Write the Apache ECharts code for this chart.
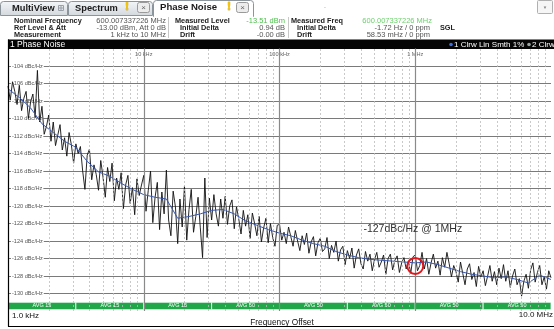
<!DOCTYPE html>
<html>
<head>
<meta charset="utf-8">
<script src="https://cdn.jsdelivr.net/npm/echarts@6.0.0/dist/echarts.min.js"></script>
<style>
  html, body { margin: 0; padding: 0; background: #fff; }
  #chart { width: 554px; height: 329px; }
</style>
</head>
<body>
<div id="chart"></div>
<script>
// sweep: 60 points per decade for the raw trace, 12 for the smoothed one
const startFreq = 1e3;
const stopFreq = 1e7;
const rawPerDecade = 60;
const smoothPerDecade = 12;

// trace 2, Clrw (dBc/Hz)
const rawTrace = [
  -106.3, -107.9, -105.8, -106.9, -108.4, -106.2, -109.1, -107.7, -106.9, -110.0,
  -108.1, -107.2, -109.9, -104.5, -110.4, -108.6, -111.8, -110.9, -109.6, -112.6,
  -110.4, -113.1, -111.9, -110.7, -113.6, -112.2, -114.3, -111.6, -113.0, -115.1,
  -112.9, -114.0, -113.2, -116.0, -118.1, -114.2, -113.5, -117.0, -115.3, -116.4,
  -118.2, -114.8, -116.7, -119.0, -115.6, -117.2, -115.1, -119.4, -116.8, -118.1,
  -116.2, -120.3, -117.6, -116.5, -119.7, -117.9, -121.0, -116.9, -118.8, -117.6,
  -116.5, -120.6, -118.2, -116.0, -121.9, -119.0, -117.3, -122.7, -118.4, -120.9,
  -115.9, -121.6, -123.4, -118.3, -120.1, -124.3, -119.2, -122.4, -117.7, -123.9,
  -120.4, -118.1, -123.0, -121.2, -119.0, -122.5, -125.9, -116.8, -123.6, -119.1,
  -121.6, -118.7, -120.9, -122.3, -119.2, -121.4, -118.9, -122.1, -120.0, -119.3,
  -122.6, -120.1, -121.5, -123.2, -120.5, -122.3, -121.0, -123.7, -120.8, -122.0,
  -123.4, -121.2, -124.1, -122.5, -121.4, -124.2, -122.0, -123.6, -124.6, -122.2,
  -122.1, -123.9, -123.0, -124.3, -122.4, -123.5, -124.6, -122.8, -124.0, -125.1,
  -123.4, -124.4, -123.1, -125.4, -124.1, -123.5, -125.7, -124.2, -123.7, -125.2,
  -124.9, -123.6, -126.0, -124.5, -125.3, -124.0, -126.3, -125.0, -124.6, -126.7,
  -125.1, -126.0, -124.8, -127.1, -125.6, -124.9, -126.6, -127.2, -125.2, -126.3,
  -125.5, -127.4, -126.1, -125.3, -127.0, -126.4, -125.6, -127.8, -126.0, -125.5,
  -127.3, -126.2, -125.7, -127.6, -126.5, -125.9, -127.2, -126.3, -127.7, -125.8,
  -125.6, -127.4, -126.8, -125.3, -127.2, -126.0, -127.8, -126.5, -125.5, -127.1,
  -126.3, -127.9, -125.9, -127.0, -125.3, -126.6, -128.1, -126.8, -127.5, -128.7,
  -126.4, -127.7, -129.0, -127.2, -126.6, -128.4, -127.6, -129.2, -126.9, -128.1,
  -127.4, -129.1, -128.0, -126.8, -128.6, -127.5, -129.0, -127.1, -128.3, -126.7,
  -128.6, -127.4, -129.3, -128.0, -127.2, -129.0, -128.3, -130.3, -128.6, -127.8,
  -129.4, -127.3, -126.5, -128.7, -127.6, -126.8, -129.0, -128.1, -129.5, -127.4,
  -128.2
];

// trace 1, Clrw Lin Smth 1%
const smoothTrace = [
  -106.6, -107.6, -108.8, -110.6, -111.6, -112.6, -113.3, -114.9, -116.1, -116.6,
  -117.4, -118.1, -118.7, -119.0, -119.2, -121.4, -121.2, -120.9, -120.5, -120.4,
  -120.9, -121.7, -122.2, -122.7, -123.1, -123.4, -123.9, -124.3, -124.6, -125.2,
  -125.6, -125.9, -126.1, -126.2, -126.3, -126.4, -126.5, -126.4, -126.7, -127.1,
  -127.5, -127.8, -128.0, -128.2, -128.1, -128.4, -128.8, -127.9, -128.4
];

const decades = [1e3, 1e4, 1e5, 1e6];
const minorSteps = [2, 3, 4, 5, 6, 7, 8, 9];
const decadeLabels = { 10000: '10 kHz', 100000: '100 kHz', 1000000: '1 MHz' };

const avgSegments = [
  { from: 1e3, to: 3162, label: 'AVG 15' },
  { from: 3162, to: 1e4, label: 'AVG 15' },
  { from: 1e4, to: 31623, label: 'AVG 15' },
  { from: 31623, to: 1e5, label: 'AVG 50' },
  { from: 1e5, to: 316228, label: 'AVG 50' },
  { from: 316228, to: 1e6, label: 'AVG 50' },
  { from: 1e6, to: 3162278, label: 'AVG 50' },
  { from: 3162278, to: 1e7, label: 'AVG 50' }
];

const markerFreq = 1e6;
const markerLevel = -126.85;
const noteFreq = 415000;
const noteLevel = -122.6;

const sweep = (values, perDecade) => values.map((v, i) => [startFreq * Math.pow(10, i / perDecade), v]);

const minorLines = [];
decades.forEach((d) => minorSteps.forEach((m) => minorLines.push({ xAxis: d * m })));
const majorLines = decades.slice(1).map((d) => ({ xAxis: d }));

const font = '"Liberation Sans", Arial, sans-serif';
const hSplitColors = ['rgba(0,0,0,0)'];
for (let k = 0; k < 14; k++) hSplitColors.push('#7a7a7a');
hSplitColors.push('rgba(0,0,0,0)');

const tabFill = new echarts.graphic.LinearGradient(0, 0, 0, 1, [
  { offset: 0, color: '#f4f6f8' },
  { offset: 1, color: '#d3d8de' }
]);

const txt = (x, y, text, opts) => ({
  type: 'text', x, y, silent: true,
  style: Object.assign({ text, fontFamily: font, fontSize: 7.3, fill: '#222', verticalAlign: 'middle' }, opts || {})
});

const closeBox = (x) => [
  { type: 'rect', shape: { x: x + 0.5, y: 2.5, width: 12, height: 10, r: 2 }, style: { fill: '#ececec', stroke: '#9a9a9a', lineWidth: 1 } },
  txt(x + 6.5, 7.8, '\u00d7', { fontSize: 8, fill: '#666', align: 'center' })
];

const warn = (x) => txt(x, 7.6, '!', {
  fontSize: 11, fontWeight: 'bold', fontFamily: '"DejaVu Sans", sans-serif',
  fill: '#f4c400', align: 'center', stroke: '#b08a00', lineWidth: 0.4
});

const graphics = [
  // tab strip
  { type: 'rect', shape: { x: 0.5, y: 1.5, width: 67, height: 14, r: [3, 3, 0, 0] }, style: { fill: tabFill, stroke: '#8c949c' } },
  txt(12, 8.5, 'MultiView', { fontSize: 9.3, fontWeight: 'bold', fill: '#1a1a1a' }),
  { type: 'rect', shape: { x: 58.5, y: 5.5, width: 5, height: 5 }, style: { fill: 'none', stroke: '#9aa0a8' } },
  { type: 'line', shape: { x1: 61, y1: 5.5, x2: 61, y2: 10.5 }, style: { stroke: '#9aa0a8' } },
  { type: 'line', shape: { x1: 58.5, y1: 8, x2: 63.5, y2: 8 }, style: { stroke: '#9aa0a8' } },
  { type: 'rect', shape: { x: 68.5, y: 1.5, width: 84, height: 14, r: [3, 3, 0, 0] }, style: { fill: tabFill, stroke: '#8c949c' } },
  txt(75, 8.5, 'Spectrum', { fontSize: 9.3, fontWeight: 'bold', fill: '#1a1a1a' }),
  warn(127),
  ...closeBox(137),
  { type: 'rect', shape: { x: 153.5, y: 0.5, width: 100, height: 16, r: [3, 3, 0, 0] }, style: { fill: '#fff', stroke: '#8c949c' } },
  { type: 'rect', shape: { x: 154, y: 15, width: 99, height: 3 }, style: { fill: '#fff' } },
  txt(160, 7.8, 'Phase Noise', { fontSize: 9.6, fontWeight: 'bold', fill: '#1a1a1a' }),
  warn(229),
  ...closeBox(236),
  txt(324, 6, '.', { fontSize: 7, fill: '#888' }),
  { type: 'rect', shape: { x: 537.5, y: 0.5, width: 15, height: 13, r: 1 }, style: { fill: '#f6f6f6', stroke: '#b0b0b0' } },
  txt(545, 7.5, '\u25bc', { fontSize: 4.5, fill: '#888', align: 'center' }),

  // measurement info
  txt(14, 20.7, 'Nominal Frequency', { fontWeight: 'bold' }),
  txt(14, 28.2, 'Ref Level & Att', { fontWeight: 'bold' }),
  txt(14, 34.8, 'Measurement', { fontWeight: 'bold' }),
  txt(166, 20.7, '600.007337226 MHz', { fontSize: 7.5, fill: '#555', align: 'right' }),
  txt(166, 28.2, '-13.00 dBm, Att 0 dB', { fontSize: 7.5, fill: '#555', align: 'right' }),
  txt(166, 34.8, '1 kHz to 10 MHz', { fontSize: 7.5, fill: '#555', align: 'right' }),
  { type: 'line', shape: { x1: 168.5, y1: 17, x2: 168.5, y2: 38 }, style: { stroke: '#c8c8c8' } },
  txt(175, 20.7, 'Measured Level', { fontWeight: 'bold' }),
  txt(180, 28.2, 'Initial Delta', { fontWeight: 'bold' }),
  txt(180, 34.8, 'Drift', { fontWeight: 'bold' }),
  txt(285, 20.7, '-13.51 dBm', { fontSize: 7.5, fill: '#4cbf4c', align: 'right' }),
  txt(285, 28.2, '0.94 dB', { fontSize: 7.5, fill: '#555', align: 'right' }),
  txt(285, 34.8, '-0.00 dB', { fontSize: 7.5, fill: '#555', align: 'right' }),
  { type: 'line', shape: { x1: 288.5, y1: 17, x2: 288.5, y2: 38 }, style: { stroke: '#c8c8c8' } },
  txt(291, 20.7, 'Measured Freq', { fontWeight: 'bold' }),
  txt(297, 28.2, 'Initial Delta', { fontWeight: 'bold' }),
  txt(297, 34.8, 'Drift', { fontWeight: 'bold' }),
  txt(432, 20.7, '600.007337226 MHz', { fontSize: 7.5, fill: '#6fcf6f', align: 'right' }),
  txt(430, 28.2, '-1.72 Hz / 0 ppm', { fontSize: 7.5, fill: '#555', align: 'right' }),
  txt(430, 34.8, '58.53 mHz / 0 ppm', { fontSize: 7.5, fill: '#555', align: 'right' }),
  txt(440, 28.2, 'SGL', { fontWeight: 'bold' }),

  // window title bar
  { type: 'rect', shape: { x: 8, y: 39.5, width: 546, height: 9.5 }, style: { fill: '#050505' } },
  txt(10, 44.5, '1 Phase Noise', { fontSize: 8.5, fill: '#fff' }),
  { type: 'circle', shape: { cx: 451, cy: 44.5, r: 1.8 }, style: { fill: '#3d6fe0' } },
  txt(454, 44.5, '1 Clrw Lin Smth 1%', { fontSize: 8, fill: '#fff' }),
  { type: 'circle', shape: { cx: 529, cy: 44.5, r: 1.8 }, style: { fill: '#9aa4a0' } },
  txt(532, 44.5, '2 Clrw', { fontSize: 8, fill: '#fff' }),

  // frame
  { type: 'line', shape: { x1: 8.5, y1: 39.5, x2: 8.5, y2: 326.5 }, style: { stroke: '#000', lineWidth: 1.2 }, z: 10 },
  { type: 'line', shape: { x1: 8, y1: 326.5, x2: 554, y2: 326.5 }, style: { stroke: '#000', lineWidth: 1 }, z: 10 },

  // footer
  txt(12, 315.5, '1.0 kHz', { fontSize: 8, fill: '#111' }),
  txt(553, 315, '10.0 MHz', { fontSize: 8, fill: '#111', align: 'right' }),
  txt(282, 322.5, 'Frequency Offset', { fontSize: 8.3, fill: '#111', align: 'center' })
];

const chart = echarts.init(document.getElementById('chart'), null, { renderer: 'canvas' });

chart.setOption({
  animation: false,
  backgroundColor: '#fff',
  grid: { left: 8, top: 48.5, width: 549.5, height: 262.5 },
  xAxis: {
    type: 'log',
    logBase: 10,
    min: startFreq,
    max: stopFreq,
    position: 'top',
    axisLine: { show: false },
    axisTick: { show: false },
    splitLine: { show: false },
    axisLabel: {
      inside: true,
      margin: 3,
      fontSize: 5.6,
      color: '#666',
      fontFamily: font,
      formatter: (v) => decadeLabels[Math.round(v)] || ''
    }
  },
  yAxis: {
    type: 'value',
    min: -132,
    max: -102,
    interval: 2,
    axisLine: { show: false },
    axisTick: { show: false },
    splitLine: { lineStyle: { color: hSplitColors, width: 1 } },
    axisLabel: {
      inside: true,
      margin: 3,
      fontSize: 5.6,
      color: '#555',
      fontFamily: font,
      backgroundColor: '#fff',
      padding: [0, 1],
      formatter: (v) => (v === -102 || v === -132) ? '' : v + ' dBc/Hz'
    }
  },
  series: [
    {
      name: 'grid',
      type: 'line',
      data: [],
      z: 1,
      silent: true,
      markLine: {
        silent: true,
        symbol: 'none',
        label: { show: false },
        data: [
          ...minorLines.map((d) => Object.assign({ lineStyle: { color: '#bcbcbc', type: [2, 2], width: 0.8 } }, d)),
          ...majorLines.map((d) => Object.assign({ lineStyle: { color: '#8a8a8a', type: 'solid', width: 1.2 } }, d))
        ]
      }
    },
    {
      name: 'Trace 2',
      type: 'line',
      data: sweep(rawTrace, rawPerDecade),
      symbol: 'none',
      z: 3,
      lineStyle: { color: '#111', width: 1, opacity: 0.9 }
    },
    {
      name: 'Trace 1',
      type: 'line',
      data: sweep(smoothTrace, smoothPerDecade),
      symbol: 'none',
      z: 4,
      lineStyle: { color: '#3a57aa', width: 1 },
      markPoint: {
        silent: true,
        data: [
          {
            coord: [markerFreq, markerLevel],
            symbol: 'circle',
            symbolSize: 16,
            itemStyle: { color: 'rgba(0,0,0,0)', borderColor: '#e3151c', borderWidth: 2 },
            label: { show: false }
          },
          {
            coord: [noteFreq, noteLevel],
            symbol: 'circle',
            symbolSize: 0,
            label: {
              show: true,
              position: 'right',
              distance: 0,
              formatter: '-127dBc/Hz @ 1MHz',
              fontSize: 10.5,
              color: '#333',
              fontFamily: font
            }
          }
        ]
      }
    },
    {
      name: 'avg',
      type: 'line',
      data: [],
      z: 6,
      silent: true,
      markArea: {
        silent: true,
        itemStyle: { color: '#21a649', borderColor: '#ffffff', borderWidth: 0.8 },
        label: { show: true, position: 'inside', color: '#fff', fontSize: 5.5, fontFamily: font },
        data: avgSegments.map((s) => [
          { xAxis: s.from, yAxis: -131, name: s.label },
          { xAxis: s.to, yAxis: -131.85 }
        ])
      }
    }
  ],
  graphic: graphics
});
</script>
</body>
</html>
